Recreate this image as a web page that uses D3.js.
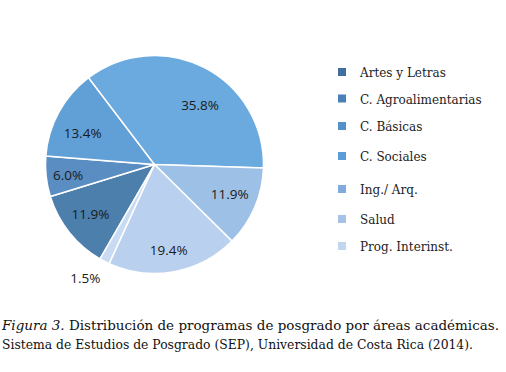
<!DOCTYPE html>
<html><head><meta charset="utf-8">
<script src="https://cdn.jsdelivr.net/npm/d3@7"></script>
<style>body{margin:0;background:#fff}svg{display:block}</style>
</head><body>
<svg id="c" width="506" height="372"></svg>
<script>
const categories = ["Artes y Letras","C. Agroalimentarias","C. Básicas","C. Sociales","Ing./ Arq.","Salud","Prog. Interinst."];
const values = [11.9, 6.0, 13.4, 35.8, 11.9, 19.4, 1.5];
const colors = ["#4c7fac","#5a8ec2","#61a0d6","#6aaadf","#9dc0e6","#b9d1ee","#c9dbf2"];
const legendColors = ["#3f6e9f","#4a80b7","#5591ca","#5c9dd7","#80abdc","#a6c2e7","#c1d5f0"];
const captionLine1Italic = "Figura 3.";
const captionLine1 = " Distribución de programas de posgrado por áreas académicas.";
const captionLine2 = "Sistema de Estudios de Posgrado (SEP), Universidad de Costa Rica (2014).";

// layout
const cx = 154.5, cy = 164.5, R = 109;
const labelRadius = [0.74, 0.8, 0.72, 0.69, 0.74, 0.8, 1.22];
const labelShiftDeg = [1, -1, -5, 10, -2, 1, 4];
const legendTop = [68, 94.5, 122, 152, 185, 215, 242];

const svg = d3.select("#c");
const pie = d3.pie().sort(null).value(d => d)
  .startAngle(7*Math.PI/6).endAngle(7*Math.PI/6 + 2*Math.PI);
const arcs = pie(values);
const arc = d3.arc().innerRadius(0).outerRadius(R);
const g = svg.append("g").attr("transform", `translate(${cx},${cy})`);
g.selectAll("path").data(arcs).join("path")
  .attr("d", arc)
  .attr("fill", (d,i) => colors[i])
  .attr("stroke", "#fff").attr("stroke-width", 1.5);

g.selectAll("text").data(arcs).join("text")
  .attr("transform", (d,i) => {
    const a = (d.startAngle + d.endAngle)/2 + labelShiftDeg[i]*Math.PI/180;
    const r = R*labelRadius[i];
    return `translate(${r*Math.sin(a)},${-r*Math.cos(a)})`;
  })
  .attr("text-anchor","middle").attr("dy","0.36em")
  .attr("font-family","'Open Sans', sans-serif").attr("font-size",13.5)
  .attr("fill","#1a1a1a")
  .text(d => d3.format(".1f")(d.data) + "%");

const lg = svg.append("g");
categories.forEach((c,i) => {
  lg.append("rect").attr("x",338).attr("y",legendTop[i]).attr("width",8).attr("height",8)
    .attr("fill", legendColors[i]);
  lg.append("text").attr("x",360).attr("y",legendTop[i]+9)
    .attr("font-family","'DejaVu Serif', serif").attr("font-size",12)
    .attr("fill","#222").text(c);
});

const cap = svg.append("g").attr("font-family","'DejaVu Serif', serif").attr("font-size",12.5).attr("fill","#111");
const t1 = cap.append("text").attr("x",2).attr("y",330).attr("textLength",497).attr("lengthAdjust","spacingAndGlyphs");
t1.append("tspan").attr("font-style","italic").text(captionLine1Italic);
t1.append("tspan").text(captionLine1);
cap.append("text").attr("x",2).attr("y",349).attr("textLength",471).attr("lengthAdjust","spacingAndGlyphs").text(captionLine2);
</script>
</body></html>
